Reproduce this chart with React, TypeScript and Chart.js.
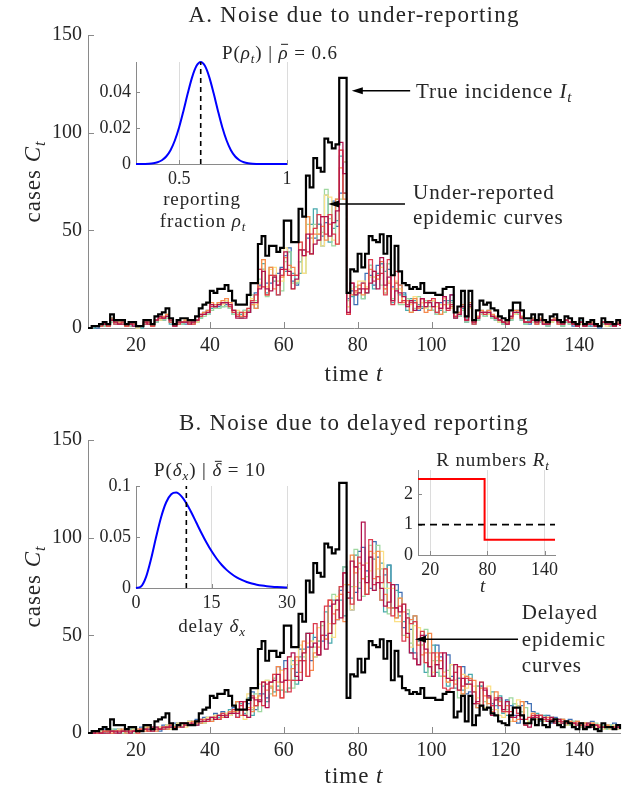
import React, { useEffect, useRef } from "react";
import { Chart, registerables } from "chart.js";
Chart.register(...registerables);

// ---------------- DATA ----------------
const FIRST_DAY = 7;
const TRUE_INCIDENCE = [
  0, 1, 1, 2, 3, 2, 7, 4, 4, 4,
  2, 3, 3, 1, 1, 4, 4, 2, 6, 7,
  8, 10, 5, 2, 4, 5, 5, 4, 4, 6,
  10, 12, 13, 19, 18, 20, 20, 22, 19, 14,
  12, 12, 12, 17, 23, 23, 43, 47, 37, 42,
  42, 39, 41, 55, 55, 44, 44, 61, 57, 78,
  72, 87, 82, 80, 97, 95, 92, 94, 128, 128,
  18, 30, 29, 38, 31, 38, 47, 45, 44, 48,
  38, 47, 27, 42, 29, 23, 22, 20, 21, 20,
  23, 18, 18, 18, 17, 17, 20, 21, 21, 8,
  11, 19, 6, 19, 4, 9, 14, 12, 13, 10,
  9, 6, 5, 4, 9, 13, 13, 9, 5, 5,
  7, 4, 7, 4, 3, 6, 7, 4, 3, 6,
  5, 3, 2, 5, 2, 3, 4, 2, 1, 5,
  3, 3, 2, 4, 2,
];

const UNDER_1 = [
  0, 1, 0, 1, 2, 2, 4, 3, 2, 3,
  1, 2, 1, 0, 1, 3, 2, 1, 3, 5,
  4, 6, 3, 1, 3, 3, 2, 2, 3, 3,
  6, 8, 7, 12, 10, 11, 13, 12, 10, 9,
  6, 5, 7, 8, 14, 18, 22, 30, 23, 23,
  26, 28, 31, 37, 41, 24, 22, 34, 40, 46,
  46, 46, 53, 47, 54, 53, 65, 52, 69, 85,
  15, 19, 12, 20, 23, 28, 27, 22, 32, 33,
  18, 30, 21, 23, 22, 18, 12, 14, 13, 9,
  10, 11, 14, 9, 7, 13, 14, 13, 17, 5,
  6, 12, 3, 12, 2, 6, 7, 8, 7, 6,
  4, 4, 2, 3, 6, 7, 9, 4, 3, 2,
  4, 3, 3, 2, 1, 4, 5, 2, 2, 3,
  3, 1, 1, 3, 2, 2, 1, 1, 0, 3,
  2, 1, 1, 3, 1,
];
const UNDER_2 = [
  0, 0, 1, 1, 1, 1, 5, 2, 3, 2,
  1, 1, 2, 1, 0, 2, 3, 1, 4, 4,
  5, 5, 2, 1, 2, 2, 3, 3, 2, 4,
  5, 7, 9, 10, 12, 13, 11, 14, 12, 7,
  7, 7, 9, 8, 13, 10, 30, 33, 18, 27,
  24, 17, 27, 29, 39, 28, 23, 28, 40, 57,
  53, 61, 53, 42, 68, 44, 51, 55, 88, 69,
  11, 16, 17, 20, 15, 18, 32, 20, 28, 33,
  29, 33, 13, 20, 17, 17, 9, 15, 14, 12,
  11, 10, 9, 14, 8, 9, 8, 14, 14, 5,
  8, 10, 5, 10, 3, 4, 9, 6, 9, 5,
  6, 3, 3, 2, 4, 9, 7, 6, 2, 4,
  5, 2, 4, 3, 2, 3, 4, 3, 1, 4,
  2, 2, 1, 4, 1, 1, 3, 1, 1, 2,
  2, 2, 2, 2, 1,
];
const UNDER_3 = [
  0, 1, 1, 1, 1, 1, 3, 2, 2, 2,
  1, 1, 2, 1, 1, 2, 2, 1, 3, 4,
  4, 5, 3, 1, 2, 2, 3, 2, 2, 3,
  5, 6, 7, 9, 10, 10, 11, 11, 10, 7,
  8, 5, 9, 9, 17, 14, 25, 30, 16, 31,
  26, 24, 19, 34, 39, 23, 23, 34, 28, 53,
  38, 53, 45, 49, 71, 56, 42, 66, 66, 69,
  14, 17, 21, 18, 15, 18, 32, 26, 27, 22,
  20, 33, 15, 20, 12, 12, 15, 8, 10, 16,
  13, 14, 11, 9, 7, 7, 8, 13, 13, 5,
  6, 9, 3, 10, 2, 4, 7, 6, 7, 5,
  4, 3, 2, 2, 4, 7, 7, 4, 2, 3,
  3, 2, 3, 2, 1, 3, 4, 2, 1, 3,
  2, 2, 1, 3, 1, 2, 2, 1, 1, 2,
  2, 1, 1, 2, 1,
];
const UNDER_4 = [
  0, 1, 1, 1, 2, 2, 4, 3, 3, 2,
  1, 2, 2, 0, 1, 3, 2, 1, 4, 4,
  5, 7, 3, 1, 2, 3, 4, 2, 2, 3,
  6, 7, 8, 12, 11, 13, 12, 14, 12, 8,
  9, 8, 7, 10, 15, 12, 23, 35, 21, 30,
  31, 24, 24, 41, 30, 20, 24, 44, 28, 57,
  46, 51, 48, 42, 68, 67, 45, 43, 91, 85,
  11, 20, 19, 24, 24, 21, 26, 26, 25, 31,
  18, 24, 20, 24, 20, 14, 14, 12, 16, 10,
  13, 10, 13, 14, 11, 12, 15, 12, 10, 6,
  7, 11, 4, 10, 3, 5, 8, 7, 7, 6,
  5, 3, 3, 2, 5, 7, 8, 5, 3, 3,
  4, 2, 4, 3, 2, 3, 4, 2, 2, 4,
  3, 2, 1, 2, 1, 2, 2, 1, 1, 3,
  1, 2, 1, 2, 1,
];
const UNDER_5 = [
  0, 1, 1, 2, 2, 1, 5, 3, 3, 3,
  1, 2, 2, 1, 1, 3, 3, 1, 4, 5,
  6, 7, 4, 2, 3, 3, 4, 3, 3, 4,
  7, 8, 9, 13, 12, 13, 14, 15, 13, 9,
  7, 6, 8, 8, 12, 10, 21, 35, 17, 31,
  20, 22, 26, 36, 32, 31, 27, 40, 37, 57,
  38, 48, 48, 52, 45, 53, 54, 66, 82, 66,
  7, 17, 18, 22, 17, 20, 30, 29, 25, 34,
  20, 23, 14, 23, 22, 13, 14, 8, 15, 10,
  15, 8, 9, 11, 13, 7, 12, 10, 11, 6,
  8, 12, 4, 13, 3, 6, 9, 8, 9, 7,
  6, 4, 3, 3, 6, 9, 9, 6, 3, 3,
  5, 3, 5, 3, 2, 4, 5, 3, 2, 4,
  3, 2, 1, 3, 1, 2, 3, 1, 1, 3,
  2, 2, 1, 3, 1,
];
const UNDER_6 = [
  0, 1, 1, 1, 2, 1, 4, 2, 2, 3,
  1, 2, 2, 1, 1, 2, 3, 1, 4, 5,
  5, 6, 3, 1, 2, 3, 3, 3, 2, 4,
  6, 7, 8, 11, 11, 12, 13, 13, 11, 8,
  6, 8, 6, 10, 14, 17, 30, 21, 17, 27,
  27, 17, 27, 30, 27, 27, 27, 44, 40, 39,
  48, 51, 58, 57, 48, 58, 48, 43, 91, 69,
  7, 23, 19, 20, 23, 20, 35, 24, 27, 28,
  17, 35, 12, 29, 13, 14, 12, 13, 13, 11,
  15, 13, 14, 15, 8, 10, 16, 9, 12, 6,
  7, 11, 4, 11, 2, 5, 8, 7, 8, 6,
  5, 4, 3, 2, 5, 8, 8, 5, 3, 3,
  4, 2, 4, 2, 2, 4, 4, 2, 2, 4,
  3, 2, 1, 3, 1, 2, 2, 1, 1, 3,
  2, 2, 1, 2, 1,
];
const UNDER_7 = [
  0, 1, 1, 2, 2, 2, 4, 3, 2, 2,
  2, 2, 1, 1, 1, 3, 2, 2, 4, 6,
  5, 6, 4, 1, 3, 3, 3, 2, 3, 4,
  7, 7, 8, 12, 11, 12, 13, 13, 12, 9,
  5, 5, 5, 8, 13, 13, 20, 29, 20, 19,
  26, 22, 30, 39, 29, 20, 25, 40, 37, 48,
  38, 43, 45, 57, 57, 47, 54, 60, 95, 79,
  8, 23, 17, 18, 20, 18, 23, 29, 20, 36,
  22, 26, 14, 19, 18, 16, 11, 14, 9, 11,
  15, 11, 13, 11, 13, 10, 16, 10, 17, 5,
  7, 11, 4, 12, 3, 5, 8, 8, 8, 6,
  5, 4, 3, 2, 6, 8, 8, 5, 3, 3,
  4, 3, 4, 2, 2, 4, 4, 3, 2, 4,
  3, 2, 1, 3, 1, 2, 2, 1, 1, 3,
  2, 2, 1, 2, 1,
];

const DELAYED_1 = [
  0, 1, 0, 0, 2, 0, 1, 0, 2, 1,
  0, 2, 1, 1, 3, 2, 1, 3, 2, 1,
  4, 2, 3, 5, 3, 5, 4, 6, 4, 7,
  5, 8, 6, 7, 10, 7, 11, 8, 9, 13,
  8, 12, 9, 15, 21, 12, 20, 20, 18, 23,
  28, 34, 32, 37, 27, 27, 31, 43, 37, 44,
  37, 49, 47, 47, 50, 65, 56, 58, 73, 85,
  76, 63, 72, 93, 95, 83, 74, 98, 90, 68,
  81, 86, 64, 76, 72, 54, 61, 53, 41, 35,
  45, 50, 34, 29, 45, 39, 31, 40, 29, 27,
  28, 34, 20, 21, 15, 24, 24, 13, 19, 15,
  9, 17, 11, 17, 14, 9, 5, 14, 16, 15,
  11, 7, 9, 6, 9, 5, 8, 5, 7, 4,
  7, 4, 6, 3, 5, 3, 6, 2, 4, 3,
  4, 2, 5, 2, 3,
];
const DELAYED_2 = [
  0, 0, 0, 1, 0, 1, 1, 2, 0, 1,
  1, 0, 2, 1, 1, 3, 2, 2, 3, 2,
  2, 4, 3, 2, 5, 3, 5, 4, 6, 4,
  7, 5, 8, 6, 9, 8, 10, 9, 12, 10,
  16, 15, 10, 18, 9, 14, 17, 24, 16, 23,
  21, 24, 22, 21, 23, 37, 25, 39, 43, 51,
  51, 39, 40, 50, 62, 46, 68, 68, 68, 60,
  69, 69, 91, 74, 79, 71, 90, 89, 80, 87,
  62, 86, 64, 73, 60, 57, 59, 41, 60, 47,
  45, 31, 41, 45, 31, 29, 29, 24, 35, 23,
  28, 22, 25, 30, 21, 13, 24, 13, 13, 21,
  14, 19, 10, 9, 8, 15, 10, 11, 4, 6,
  7, 10, 6, 9, 6, 8, 5, 7, 5, 6,
  4, 6, 4, 5, 3, 5, 3, 4, 2, 4,
  2, 4, 2, 4, 2,
];
const DELAYED_3 = [
  0, 0, 1, 0, 0, 1, 2, 1, 1, 0,
  1, 2, 0, 2, 1, 2, 3, 1, 2, 3,
  3, 3, 2, 4, 4, 3, 5, 6, 4, 5,
  6, 7, 6, 8, 7, 9, 8, 10, 11, 10,
  16, 12, 9, 8, 12, 20, 11, 14, 27, 20,
  28, 26, 22, 21, 23, 23, 35, 37, 39, 51,
  47, 44, 47, 55, 48, 51, 71, 63, 75, 85,
  76, 75, 94, 77, 70, 80, 96, 73, 96, 84,
  84, 61, 76, 59, 69, 50, 63, 46, 57, 45,
  45, 53, 29, 37, 37, 29, 29, 32, 27, 31,
  18, 20, 29, 27, 21, 24, 14, 16, 18, 12,
  17, 17, 11, 12, 18, 15, 14, 11, 13, 6,
  8, 9, 7, 8, 6, 8, 5, 7, 5, 6,
  4, 6, 4, 5, 3, 5, 3, 5, 2, 4,
  2, 4, 2, 3, 3,
];
const DELAYED_4 = [
  0, 0, 0, 1, 1, 0, 1, 1, 2, 1,
  1, 1, 2, 0, 2, 3, 1, 2, 2, 3,
  3, 4, 2, 3, 5, 4, 3, 6, 5, 6,
  6, 5, 8, 7, 9, 7, 10, 10, 9, 12,
  11, 16, 7, 20, 13, 18, 25, 26, 27, 23,
  30, 26, 32, 27, 39, 35, 37, 45, 41, 46,
  47, 39, 54, 57, 48, 56, 49, 70, 71, 76,
  69, 63, 75, 84, 79, 87, 83, 92, 84, 93,
  74, 74, 74, 57, 57, 66, 49, 44, 55, 54,
  45, 36, 41, 31, 39, 37, 31, 26, 35, 27,
  22, 30, 23, 25, 24, 18, 26, 13, 24, 14,
  12, 9, 8, 11, 6, 13, 17, 16, 7, 5,
  10, 7, 9, 6, 8, 6, 7, 5, 7, 4,
  6, 4, 6, 3, 5, 3, 5, 3, 4, 2,
  4, 2, 4, 2, 3,
];
const DELAYED_5 = [
  0, 1, 0, 0, 1, 1, 0, 1, 1, 2,
  0, 1, 1, 2, 2, 1, 3, 2, 1, 2,
  3, 2, 4, 3, 3, 5, 4, 4, 6, 5,
  5, 7, 7, 6, 8, 9, 8, 9, 11, 11,
  16, 9, 16, 13, 11, 14, 19, 26, 22, 24,
  19, 34, 18, 27, 27, 33, 39, 31, 47, 29,
  32, 41, 44, 50, 48, 68, 61, 58, 71, 57,
  76, 91, 82, 87, 79, 71, 93, 79, 93, 68,
  71, 64, 64, 59, 69, 62, 49, 58, 60, 45,
  40, 41, 51, 29, 41, 37, 29, 26, 27, 25,
  34, 20, 29, 28, 27, 13, 23, 19, 15, 11,
  21, 16, 11, 14, 8, 6, 7, 16, 4, 5,
  10, 8, 9, 7, 8, 7, 7, 6, 7, 5,
  6, 5, 6, 4, 5, 4, 5, 4, 4, 3,
  4, 3, 3, 3, 3,
];
const DELAYED_6 = [
  0, 0, 0, 0, 1, 1, 1, 0, 1, 1,
  2, 1, 1, 0, 2, 2, 1, 3, 2, 2,
  2, 3, 4, 3, 4, 5, 4, 5, 4, 6,
  7, 6, 6, 8, 8, 7, 10, 9, 10, 12,
  8, 14, 16, 12, 19, 14, 17, 14, 25, 26,
  30, 22, 18, 33, 21, 27, 27, 37, 37, 29,
  51, 56, 40, 50, 65, 68, 56, 63, 75, 82,
  72, 66, 85, 90, 86, 71, 99, 76, 80, 77,
  84, 77, 60, 64, 65, 47, 59, 56, 57, 35,
  52, 36, 34, 41, 35, 41, 23, 22, 23, 31,
  34, 24, 28, 27, 21, 15, 14, 23, 18, 14,
  18, 14, 11, 11, 11, 13, 10, 9, 7, 8,
  9, 8, 9, 7, 7, 7, 6, 6, 6, 5,
  5, 5, 5, 4, 4, 4, 4, 4, 3, 3,
  3, 3, 3, 3, 3,
];
const DELAYED_7 = [
  0, 0, 1, 0, 0, 0, 1, 1, 0, 1,
  1, 0, 1, 1, 1, 2, 2, 1, 3, 2,
  3, 3, 3, 2, 4, 3, 5, 4, 5, 4,
  6, 6, 7, 8, 7, 9, 9, 8, 10, 10,
  10, 16, 9, 8, 18, 17, 16, 26, 13, 26,
  27, 30, 26, 27, 39, 41, 29, 27, 41, 51,
  44, 46, 40, 57, 43, 51, 66, 68, 59, 82,
  69, 88, 85, 68, 108, 77, 90, 73, 77, 74,
  65, 67, 76, 64, 62, 66, 51, 41, 38, 35,
  50, 43, 34, 29, 35, 33, 41, 28, 27, 35,
  22, 28, 25, 25, 15, 16, 26, 22, 19, 9,
  17, 18, 12, 16, 8, 8, 9, 7, 4, 3,
  8, 9, 7, 8, 6, 8, 5, 7, 5, 6,
  5, 5, 4, 5, 3, 5, 3, 4, 3, 3,
  3, 3, 2, 3, 2,
];

// drawn top -> bottom
const CURVE_COLORS = ["#b2124d", "#dc3a4c", "#f6894c", "#fbe086", "#9fd8a0", "#48a9ad", "#3f6fb4"];
const UNDER_CURVES = [UNDER_7, UNDER_6, UNDER_5, UNDER_4, UNDER_3, UNDER_2, UNDER_1];
const DELAYED_CURVES = [DELAYED_7, DELAYED_6, DELAYED_5, DELAYED_4, DELAYED_3, DELAYED_2, DELAYED_1];

const MAIN_X_TICKS = [20, 40, 60, 80, 100, 120, 140];
const MAIN_Y_TICKS = [0, 50, 100, 150];

const RHO_X = [0.3, 0.32, 0.34, 0.36, 0.38, 0.4, 0.42, 0.44, 0.46, 0.48, 0.5, 0.52, 0.54, 0.56, 0.58, 0.6,
  0.62, 0.64, 0.66, 0.68, 0.7, 0.72, 0.74, 0.76, 0.78, 0.8, 0.82, 0.84, 0.86, 0.88, 0.9, 0.92, 0.94, 0.96, 0.98, 1.0];
const RHO_PROB = [0.00001, 0.00002, 0.00006, 0.00016, 0.00041, 0.00096, 0.00209, 0.00418, 0.00771, 0.01312,
  0.02054, 0.02967, 0.03948, 0.04842, 0.05472, 0.057, 0.05472, 0.04842, 0.03948, 0.02967, 0.02054, 0.01312,
  0.00771, 0.00418, 0.00209, 0.00096, 0.00041, 0.00016, 0.00006, 0.00002, 0.00001, 0, 0, 0, 0, 0];
const RHO_MEAN = 0.6;
const RHO_X_TICKS = [0.5, 1];
const RHO_Y_TICKS = [0, 0.02, 0.04];

const DELAY_X = [0, 1, 2, 3, 4, 5, 6, 7, 8, 9, 10, 11, 12, 13, 14, 15, 16, 17, 18, 19, 20, 21, 22, 23, 24, 25, 26, 27, 28, 29, 30];
const DELAY_PROB = [0, 0.00151, 0.01088, 0.02866, 0.05003, 0.06967, 0.08408, 0.09198, 0.09356, 0.09007, 0.08307,
  0.07398, 0.06393, 0.05393, 0.0446, 0.0362, 0.02893, 0.0228, 0.01776, 0.01368, 0.01044, 0.0079, 0.00593,
  0.00441, 0.00327, 0.0024, 0.00176, 0.00128, 0.00093, 0.00067, 0.00048];
const DELAY_MEAN = 10;
const DELAY_X_TICKS = [0, 15, 30];
const DELAY_Y_TICKS = [0, 0.05, 0.1];

const R_DAYS = [7, 77, 151];
const R_VALUES = [2.5, 0.5, 0.5];
const R_THRESHOLD = 1;
const R_X_TICKS = [20, 80, 140];
const R_Y_TICKS = [0, 1, 2];

// ---------------- helpers ----------------
const FONT = '"Liberation Serif", "Times New Roman", serif';
const FONT_NAME = "Liberation Serif";
const AXIS = "#8a8a8a";
const INK = "#262626";

type Part = [string, string];
function drawRich(ctx: CanvasRenderingContext2D, parts: Part[], x: number, y: number, size: number, align = "left", spacing = 0.8) {
  ctx.save();
  ctx.fillStyle = INK;
  ctx.textBaseline = "alphabetic";
  ctx.textAlign = "left";
  (ctx as any).letterSpacing = `${spacing}px`;
  const fontFor = (s: string) =>
    `${s.includes("i") ? "italic " : ""}${s.includes("s") ? Math.round(size * 0.7) : size}px ${FONT}`;
  const widths = parts.map(([t, s]) => {
    ctx.font = fontFor(s);
    return ctx.measureText(t).width;
  });
  const total = widths.reduce((a, b) => a + b, 0);
  let cx = align === "center" ? x - total / 2 : align === "right" ? x - total : x;
  parts.forEach(([t, s], k) => {
    ctx.font = fontFor(s);
    const dy = s.includes("s") ? size * 0.22 : 0;
    ctx.fillText(t, cx, y + dy);
    if (s.includes("b")) {
      ctx.fillRect(cx + widths[k] * 0.25, y - size * 0.8, widths[k] * 0.7, Math.max(1, size * 0.055));
    }
    cx += widths[k];
  });
  ctx.restore();
}

function drawArrow(ctx: CanvasRenderingContext2D, x0: number, y0: number, x1: number, y1: number) {
  ctx.save();
  ctx.strokeStyle = "#000";
  ctx.fillStyle = "#000";
  ctx.lineWidth = 1.5;
  const ang = Math.atan2(y1 - y0, x1 - x0);
  const L = 11, W = 3.5;
  const bx = x1 - L * Math.cos(ang), by = y1 - L * Math.sin(ang);
  ctx.beginPath();
  ctx.moveTo(x0, y0);
  ctx.lineTo(bx + 2 * Math.cos(ang), by + 2 * Math.sin(ang));
  ctx.stroke();
  ctx.beginPath();
  ctx.moveTo(x1, y1);
  ctx.lineTo(bx - W * Math.sin(ang), by + W * Math.cos(ang));
  ctx.lineTo(bx + W * Math.sin(ang), by - W * Math.cos(ang));
  ctx.closePath();
  ctx.fill();
  ctx.restore();
}

const xy = (xs: number[], ys: number[]) => ys.map((y, i) => ({ x: xs[i], y }));
const DAYS = TRUE_INCIDENCE.map((_, i) => FIRST_DAY + i);

function inwardTicks(len: number) {
  return {
    id: "inwardTicks",
    beforeDatasetsDraw(chart: any) {
      const { ctx, chartArea: a, scales } = chart;
      const x = scales.x, y = scales.y;
      ctx.save();
      ctx.strokeStyle = AXIS;
      ctx.lineWidth = 1;
      ctx.beginPath();
      x.ticks.forEach((t: any) => {
        const px = Math.round(x.getPixelForValue(t.value)) + 0.5;
        ctx.moveTo(px, a.bottom);
        ctx.lineTo(px, a.bottom - len);
      });
      y.ticks.forEach((t: any) => {
        const py = Math.round(y.getPixelForValue(t.value)) + 0.5;
        ctx.moveTo(a.left, py);
        ctx.lineTo(a.left + len, py);
      });
      ctx.stroke();
      ctx.restore();
    },
  };
}

function axisOptions(opts: any) {
  const { min, max, ticks, fit, fontSize, padding, grid, position } = opts;
  return {
    type: "linear",
    position,
    min,
    max,
    afterBuildTicks: (s: any) => {
      s.ticks = ticks.map((v: number) => ({ value: v }));
    },
    afterFit: (s: any) => {
      if (position === "left") s.width = fit;
      else s.height = fit;
    },
    grid: grid
      ? { display: true, drawTicks: false, color: "#dcdcdc", lineWidth: 1 }
      : { display: false, drawTicks: false },
    border: { display: true, color: AXIS, width: 1 },
    ticks: {
      padding,
      color: INK,
      autoSkip: false,
      maxRotation: 0,
      font: { family: FONT_NAME, size: fontSize },
      callback: (v: number) => String(v),
    },
  };
}

type Annot = { arrows: { from: number[]; to: number[] }[]; labels: { at: number[]; parts: Part[] }[] };

function mainConfig(curves: number[][], padTop: number, xFit: number, texts: any, annot: Annot) {
  const datasets: any[] = [
    { data: xy(DAYS, TRUE_INCIDENCE), borderColor: "#000", borderWidth: 2.2 },
    ...curves.map((c, k) => ({ data: xy(DAYS, c), borderColor: CURVE_COLORS[k], borderWidth: 1.25 })),
  ].map((d) => ({ ...d, stepped: true, pointRadius: 0, fill: false, clip: 4 }));
  const decor = {
    id: "decor",
    afterDraw(chart: any) {
      const { ctx, chartArea: a, scales } = chart;
      const cxm = (a.left + a.right) / 2;
      drawRich(ctx, texts.title, cxm, texts.titleY, 23, "center", 1.2);
      drawRich(ctx, [["time ", ""], ["t", "i"]], cxm, texts.xlabelY, 23, "center", 1.0);
      ctx.save();
      ctx.translate(40, (a.top + a.bottom) / 2);
      ctx.rotate(-Math.PI / 2);
      drawRich(ctx, [["cases ", ""], ["C", "i"], ["t", "is"]], 0, 0, 23, "center", 1.0);
      ctx.restore();
      annot.arrows.forEach((ar) => {
        drawArrow(
          ctx,
          scales.x.getPixelForValue(ar.from[0]), scales.y.getPixelForValue(ar.from[1]),
          scales.x.getPixelForValue(ar.to[0]), scales.y.getPixelForValue(ar.to[1])
        );
      });
      annot.labels.forEach((lb) => {
        drawRich(ctx, lb.parts, scales.x.getPixelForValue(lb.at[0]), scales.y.getPixelForValue(lb.at[1]) + 7, 21, "left", 0.9);
      });
    },
  };
  return {
    type: "line",
    data: { datasets },
    options: {
      animation: false,
      responsive: false,
      maintainAspectRatio: false,
      events: [],
      layout: { padding: { left: 0, right: 3, top: padTop, bottom: 0 } },
      plugins: { legend: { display: false }, tooltip: { enabled: false } },
      scales: {
        x: axisOptions({ position: "bottom", min: 7, max: 151, ticks: MAIN_X_TICKS, fit: xFit, fontSize: 20, padding: 6 }),
        y: axisOptions({ position: "left", min: 0, max: 150, ticks: MAIN_Y_TICKS, fit: 88, fontSize: 20, padding: 6 }),
      },
    },
    plugins: [inwardTicks(6), decor],
  };
}

function insetConfig(datasets: any[], sc: any, draw: (ctx: CanvasRenderingContext2D) => void) {
  return {
    type: "line",
    data: { datasets: datasets.map((d) => ({ pointRadius: 0, fill: false, clip: 3, ...d })) },
    options: {
      animation: false,
      responsive: false,
      maintainAspectRatio: false,
      events: [],
      layout: { padding: { left: 0, right: sc.padRight, top: sc.padTop, bottom: 0 } },
      plugins: { legend: { display: false }, tooltip: { enabled: false } },
      scales: {
        x: axisOptions({ position: "bottom", min: sc.xmin, max: sc.xmax, ticks: sc.xticks, fit: sc.xFit, fontSize: 18, padding: 4, grid: true }),
        y: axisOptions({ position: "left", min: sc.ymin, max: sc.ymax, ticks: sc.yticks, fit: sc.yFit, fontSize: 18, padding: 5 }),
      },
    },
    plugins: [inwardTicks(4), { id: "insetText", afterDraw: (chart: any) => draw(chart.ctx) }],
  };
}

const ANNOT_A: Annot = {
  arrows: [
    { from: [94.2, 121.5], to: [78.4, 121.5] },
    { from: [92.8, 63.5], to: [72.0, 63.5] },
  ],
  labels: [
    { at: [95.8, 121.5], parts: [["True incidence ", ""], ["I", "i"], ["t", "is"]] },
    { at: [95.0, 69.8], parts: [["Under-reported", ""]] },
    { at: [95.0, 57.0], parts: [["epidemic curves", ""]] },
  ],
};
const ANNOT_B: Annot = {
  arrows: [{ from: [123.4, 48], to: [95.5, 48] }],
  labels: [
    { at: [124.4, 62.1], parts: [["Delayed", ""]] },
    { at: [124.4, 48], parts: [["epidemic", ""]] },
    { at: [124.4, 34.8], parts: [["curves", ""]] },
  ],
};

export default function App() {
  const aRef = useRef<HTMLCanvasElement>(null);
  const bRef = useRef<HTMLCanvasElement>(null);
  const rhoRef = useRef<HTMLCanvasElement>(null);
  const delayRef = useRef<HTMLCanvasElement>(null);
  const rRef = useRef<HTMLCanvasElement>(null);

  useEffect(() => {
    const charts: Chart[] = [];
    charts.push(
      new Chart(
        aRef.current!,
        mainConfig(UNDER_CURVES, 35, 67, { title: [["A. Noise due to under-reporting", ""]], titleY: 22, xlabelY: 381 }, ANNOT_A) as any
      )
    );
    charts.push(
      new Chart(
        bRef.current!,
        mainConfig(DELAYED_CURVES, 45, 57, { title: [["B. Noise due to delayed reporting", ""]], titleY: 35, xlabelY: 388 }, ANNOT_B) as any
      )
    );
    charts.push(
      new Chart(
        rhoRef.current!,
        insetConfig(
          [
            { data: [{ x: RHO_MEAN, y: 0 }, { x: RHO_MEAN, y: 0.057 }], borderColor: "#000", borderWidth: 1.6, borderDash: [5, 4] },
            { data: xy(RHO_X, RHO_PROB), borderColor: "#0000ff", borderWidth: 2, cubicInterpolationMode: "monotone" },
          ],
          { padRight: 78, padTop: 22, xFit: 71, yFit: 46, xmin: 0.3, xmax: 1, ymin: 0, ymax: 0.057, xticks: RHO_X_TICKS, yticks: RHO_Y_TICKS },
          (ctx) => {
            drawRich(ctx, [["P(", ""], ["ρ", "i"], ["t", "is"], [") | ", ""], ["ρ", "ib"], [" = 0.6", ""]], 190, 19, 19, "center", 0.9);
            drawRich(ctx, [["reporting", ""]], 112, 165, 19, "center", 0.9);
            drawRich(ctx, [["fraction ", ""], ["ρ", "i"], ["t", "is"]], 113, 187, 19, "center", 0.9);
          }
        ) as any
      )
    );
    charts.push(
      new Chart(
        delayRef.current!,
        insetConfig(
          [
            { data: [{ x: DELAY_MEAN, y: 0 }, { x: DELAY_MEAN, y: 0.1 }], borderColor: "#000", borderWidth: 1.6, borderDash: [5, 4] },
            { data: xy(DELAY_X, DELAY_PROB), borderColor: "#0000ff", borderWidth: 2, cubicInterpolationMode: "monotone" },
          ],
          { padRight: 78, padTop: 41, xFit: 52, yFit: 46, xmin: 0, xmax: 30, ymin: 0, ymax: 0.1, xticks: DELAY_X_TICKS, yticks: DELAY_Y_TICKS },
          (ctx) => {
            drawRich(ctx, [["P(", ""], ["δ", "i"], ["x", "is"], [") | ", ""], ["δ", "ib"], [" = 10", ""]], 120, 31, 19, "center", 0.9);
            drawRich(ctx, [["delay ", ""], ["δ", "i"], ["x", "is"]], 122, 187, 19, "center", 0.9);
          }
        ) as any
      )
    );
    charts.push(
      new Chart(
        rRef.current!,
        insetConfig(
          [
            { data: xy(R_DAYS, R_VALUES), borderColor: "#ff0000", borderWidth: 2, stepped: true },
            { data: [{ x: 7, y: R_THRESHOLD }, { x: 151, y: R_THRESHOLD }], borderColor: "#000", borderWidth: 1.6, borderDash: [7, 5] },
          ],
          { padRight: 25, padTop: 30, xFit: 45, yFit: 38, xmin: 7, xmax: 151, ymin: 0, ymax: 2.8, xticks: R_X_TICKS, yticks: R_Y_TICKS },
          (ctx) => {
            drawRich(ctx, [["R numbers ", ""], ["R", "i"], ["t", "is"]], 113, 26, 19, "center", 0.9);
            drawRich(ctx, [["t", "i"]], 103, 152, 19, "center", 0.9);
          }
        ) as any
      )
    );
    return () => charts.forEach((c) => c.destroy());
  }, []);

  const abs = (l: number, t: number): React.CSSProperties => ({ position: "absolute", left: l, top: t });
  return (
    <div style={{ position: "absolute", left: 0, top: 0, width: 623, height: 790, background: "#fff", overflow: "hidden" }}>
      <canvas ref={aRef} width={623} height={395} style={abs(0, 0)} />
      <canvas ref={bRef} width={623} height={395} style={abs(0, 395)} />
      <canvas ref={rhoRef} width={275} height={195} style={abs(90, 40)} />
      <canvas ref={delayRef} width={275} height={195} style={abs(90, 445)} />
      <canvas ref={rRef} width={200} height={160} style={abs(380, 440)} />
    </div>
  );
}
